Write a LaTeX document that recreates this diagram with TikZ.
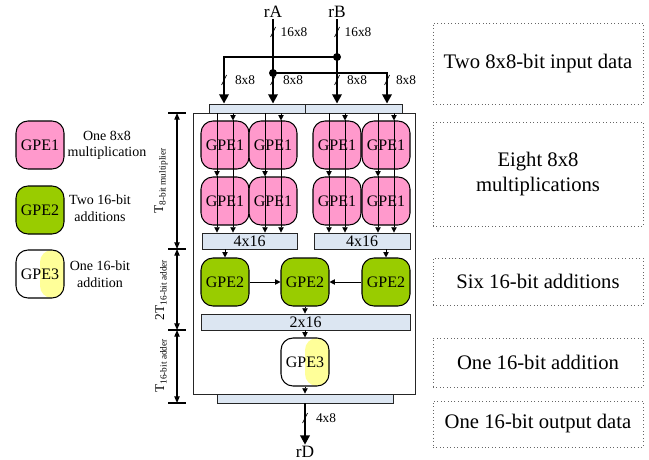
\documentclass[tikz,border=0pt]{standalone}
\usepackage{fontspec}
\setmainfont{Liberation Serif}
\usetikzlibrary{arrows.meta,calc}
\definecolor{gpepink}{HTML}{FF99CC}
\definecolor{gpegreen}{HTML}{99CC00}
\definecolor{gpeyellow}{HTML}{FFFF99}
\definecolor{barfill}{HTML}{DCE6F2}
\begin{document}
\begin{tikzpicture}[x=0.75pt,y=-0.75pt,
 gpe/.style={draw, line width=0.8pt, rounded corners=9pt, minimum width=36pt, minimum height=36pt, inner sep=0pt, font=\fontsize{12}{14}\selectfont},
 gpeA/.style={gpe, fill=gpepink},
 gpeB/.style={gpe, fill=gpegreen},
 gpeC/.style={gpe, fill=white, path picture={\fill[gpeyellow] (path picture bounding box.north) rectangle (path picture bounding box.south east);}},
 databar/.style={draw=black!85, fill=barfill, line width=0.6pt, inner sep=0pt, font=\fontsize{12}{12}\selectfont},
 bus/.style={line width=1.9pt},
 busarrow/.style={bus, -{Triangle[length=7pt,width=7pt]}},
 sig/.style={line width=0.6pt, -{Triangle[length=4pt,width=4pt]}},
 buslabel/.style={font=\fontsize{10}{12}\selectfont, inner sep=0pt},
 slashmark/.style={line width=0.5pt},
 descbox/.style={draw=black!60, dotted, line width=0.6pt, minimum width=157.5pt, align=center, inner sep=0pt, font=\fontsize{15.5}{18.5}\selectfont},
 legtext/.style={align=center, inner sep=0pt, font=\fontsize{10.5}{12.5}\selectfont},
 dimline/.style={line width=0.8pt, {Triangle[length=5pt,width=4pt]}-{Triangle[length=5pt,width=4pt]}},
 dimlabel/.style={rotate=90, inner sep=0pt, font=\fontsize{10}{11}\selectfont},
 regname/.style={inner sep=1pt, font=\fontsize{13}{14}\selectfont}
]
\useasboundingbox (0,0) rectangle (649,460);

% ---------- right description boxes ----------
\node[descbox, minimum height=60.75pt] (dsc1) at (538,63.5) {Two 8x8-bit input data};
\node[descbox, minimum height=78pt] (dsc2) at (538,174) {Eight 8x8\\multiplications};
\node[descbox, minimum height=35.25pt] (dsc3) at (538,281.5) {Six 16-bit additions};
\node[descbox, minimum height=36.75pt] (dsc4) at (538,362.5) {One 16-bit addition};
\node[descbox, minimum height=34.5pt] (dsc5) at (538,424) {One 16-bit output data};

% ---------- legend ----------
\node[gpeA] (lg1) at (40,145) {GPE1};
\node[gpeB] (lg2) at (40,210) {GPE2};
\node[gpeC] (lg3) at (40,274) {GPE3};
\node[legtext] (lt1) at (107,145.5) {One 8x8\\multiplication};
\node[legtext] (lt2) at (100,208.5) {Two 16-bit\\additions};
\node[legtext] (lt3) at (100,274) {One 16-bit\\addition};

% ---------- main box ----------
\draw[draw=black!85, line width=0.6pt] (193,113) rectangle (415,394);

% bars
\node[databar, minimum width=72pt, minimum height=6.75pt] (tbarL) at (257,108.5) {};
\node[databar, minimum width=72.75pt, minimum height=6.75pt] (tbarR) at (353.5,108.5) {};
\node[databar, minimum width=71.25pt, minimum height=12pt] (qL) at (249.5,241) {4x16};
\node[databar, minimum width=72pt, minimum height=12pt] (qR) at (362,241) {4x16};
\node[databar, minimum width=156.75pt, minimum height=12pt] (hbar) at (305.5,322) {2x16};
\node[databar, minimum width=132pt, minimum height=6.75pt] (bbar) at (305,398.5) {};

% GPE1 grid
\node[gpeA] (a1) at (225,145) {GPE1};
\node[gpeA] (a2) at (273,145) {GPE1};
\node[gpeA] (a3) at (337,145) {GPE1};
\node[gpeA] (a4) at (386,145) {GPE1};
\node[gpeA] (b1) at (225,201) {GPE1};
\node[gpeA] (b2) at (273,201) {GPE1};
\node[gpeA] (b3) at (337,201) {GPE1};
\node[gpeA] (b4) at (386,201) {GPE1};

\foreach \n/\topb/\qbar in {1/tbarL/qL,2/tbarL/qL,3/tbarR/qR,4/tbarR/qR} {
  \coordinate (aL\n) at ($(a\n.center)+(-8,0)$);
  \coordinate (aR\n) at ($(a\n.center)+(8,0)$);
  \draw[sig] (aL\n |- \topb.south) -- (aL\n |- b\n.north);
  \draw[sig] (aL\n |- b\n.north) -- (aL\n |- \qbar.north);
  \draw[sig] (aR\n |- \topb.south) -- (aR\n |- a\n.north);
  \draw[sig] (aR\n |- a\n.north) -- (aR\n |- \qbar.north);
}

% GPE2 row
\node[gpeB] (c1) at (225,282) {GPE2};
\node[gpeB] (c2) at (305,282) {GPE2};
\node[gpeB] (c3) at (386,282) {GPE2};
\draw[sig] (qL.south -| c1.north) -- (c1.north);
\draw[sig] (qR.south -| c3.north) -- (c3.north);
\draw[sig] (c1.east) -- (c2.west);
\draw[sig] (c3.west) -- (c2.east);
\draw[sig] (c2.south) -- (c2.south |- hbar.north);

% GPE3
\node[gpeC] (e1) at (305,362) {GPE3};
\draw[sig] (hbar.south -| e1.north) -- (e1.north);
\draw[sig] (e1.south) -- (e1.south |- bbar.north);

% ---------- input buses ----------
\node[regname] (rA) at (273,12) {rA};
\node[regname] (rB) at (337,12) {rB};
\coordinate (jB) at (337,57);
\coordinate (jA) at (273,73);
\coordinate (k1) at (224,57);
\coordinate (k2) at (387,73);
\draw[busarrow] (rA.south) -- (rA.south |- tbarL.north);
\draw[busarrow] (rB.south) -- (rB.south |- tbarR.north);
\draw[busarrow] (jB) -- (k1) -- (k1 |- tbarL.north);
\draw[busarrow] (jA) -- (k2) -- (k2 |- tbarR.north);
\fill (jB) circle (3pt);
\fill (jA) circle (3pt);

% slash marks and width labels
\draw[slashmark] (270.5,37) -- (275.5,27);
\draw[slashmark] (334.5,37) -- (339.5,27);
\node[buslabel] (w1) at (294,32) {16x8};
\node[buslabel] (w2) at (358,32) {16x8};
\draw[slashmark] (221.5,85) -- (226.5,75);
\draw[slashmark] (270.5,85) -- (275.5,75);
\draw[slashmark] (334.5,85) -- (339.5,75);
\draw[slashmark] (384.5,85) -- (389.5,75);
\node[buslabel] (w3) at (245,80) {8x8};
\node[buslabel] (w4) at (293,80) {8x8};
\node[buslabel] (w5) at (357,80) {8x8};
\node[buslabel] (w6) at (406,80) {8x8};

% ---------- output ----------
\node[regname] (rD) at (305,452) {rD};
\draw[busarrow] (bbar.south) -- (rD.north);
\draw[slashmark] (302.5,423) -- (307.5,413);
\node[buslabel] (w7) at (326,418) {4x8};

% ---------- timing dimensions ----------
\coordinate (t1) at (177,113);
\coordinate (t2) at (177,249);
\coordinate (t3) at (177,330);
\coordinate (t4) at (177,403);
\foreach \t in {t1,t2,t3,t4} { \draw[line width=0.8pt] ($(\t)+(-9,0)$) -- ($(\t)+(9,0)$); }
\draw[dimline] (t1) -- (t2);
\draw[dimline] (t2) -- (t3);
\draw[dimline] (t3) -- (t4);
\node[dimlabel] (d1) at (161,181) {T\raisebox{-0.4ex}{\fontsize{7}{8}\selectfont 8-bit multiplier}};
\node[dimlabel] (d2) at (161,290) {2T\raisebox{-0.4ex}{\fontsize{7}{8}\selectfont 16-bit adder}};
\node[dimlabel] (d3) at (161,366) {T\raisebox{-0.4ex}{\fontsize{7}{8}\selectfont 16-bit adder}};
\end{tikzpicture}
\end{document}
